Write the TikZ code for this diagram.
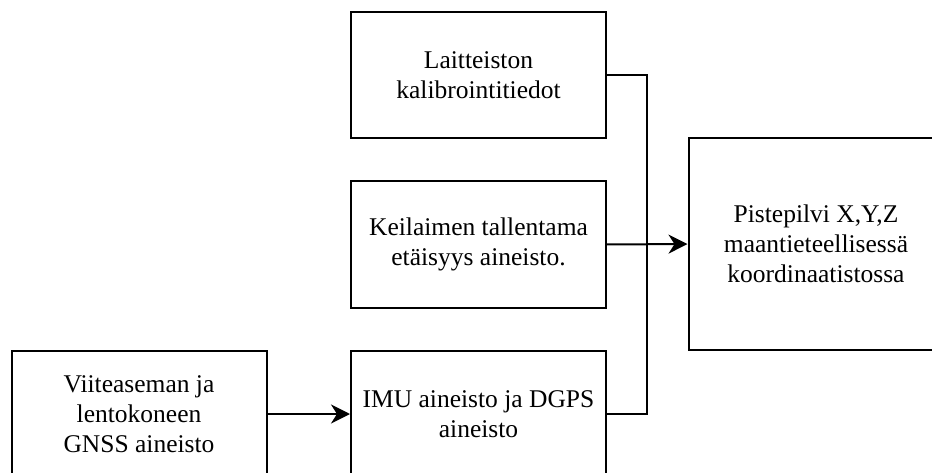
\documentclass[tikz,border=0pt]{standalone}
\usepackage{fontspec}
\setmainfont{Liberation Serif}
\usetikzlibrary{arrows.meta}
\begin{document}
\begin{tikzpicture}[
        x=1pt, y=-1pt,
        line width=2pt,
        every node/.style={draw, align=center, minimum width=255pt, font=\fontsize{25.5}{30}\selectfont},
        lahde/.style={minimum height=126pt},
        tulos/.style={minimum height=212pt},
        nuoli/.style={-{Stealth[length=19pt, width=19pt, inset=6pt]}}
    ]
    \useasboundingbox (0,0) rectangle (932,473);
    \node[lahde] (kalib) at (478.5,75) {Laitteiston\\kalibrointitiedot};
    \node[lahde] (keil) at (478.5,244.5) {Keilaimen tallentama\\etäisyys aineisto.};
    \node[lahde] (imu) at (478.5,414) {IMU aineisto ja DGPS\\aineisto};
    \node[lahde] (gnss) at (139,414) {Viiteaseman ja\\lentokoneen\\GNSS aineisto};
    \node[tulos] (piste) at (816,244) {Pistepilvi X,Y,Z\\maantieteellisessä\\koordinaatistossa};
    \coordinate (liitos) at (647,244);
    \draw (kalib.east) -| (liitos);
    \draw (imu.east) -| (liitos);
    \draw[nuoli] (keil.east) -- (piste.west);
    \draw[nuoli] (gnss.east) -- (imu.west);
\end{tikzpicture}
\end{document}
